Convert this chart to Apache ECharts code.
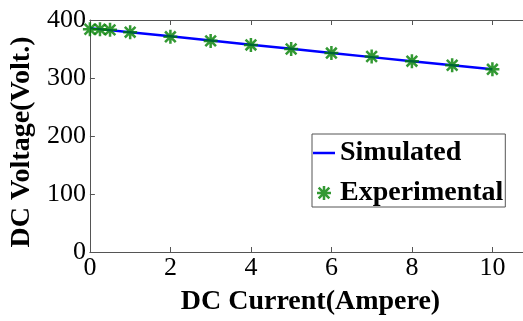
<!DOCTYPE html>
<html>
<head>
<meta charset="utf-8">
<script src="https://cdn.jsdelivr.net/npm/echarts@6/dist/echarts.min.js"></script>
<style>html,body{margin:0;padding:0;background:#fff}#c{width:523px;height:321px}</style>
</head>
<body>
<div id="c"></div>
<script>
var currentSim = [0, 1, 2, 3, 4, 5, 6, 7, 8, 9, 10];
var voltageSim = [386, 379, 372, 364.5, 357.5, 350.5, 343, 336, 329, 322, 315];
var currentExp = [0, 0.25, 0.5, 1, 2, 3, 4, 5, 6, 7, 8, 9, 10];
var voltageExp = [384, 384, 383, 379, 371, 364, 357, 350, 343, 337, 329, 322, 315];
var xTicks = [0, 2, 4, 6, 8, 10];
var yTicks = [0, 100, 200, 300, 400];

var star = 'path://M0,41L100,41L100,59L0,59Z M41,0L59,0L59,100L41,100Z M18.4,5.6L94.4,81.6L81.6,94.4L5.6,18.4Z M94.4,18.4L18.4,94.4L5.6,81.6L81.6,5.6Z';
var lineIcon = 'path://M0,0L22,0L22,2.5L0,2.5Z';
var serif = '"Liberation Serif", "Times New Roman", serif';
var axisCol = '#555';

var chart = echarts.init(document.getElementById('c'), null, {renderer: 'canvas'});
chart.setOption({
  animation: false,
  backgroundColor: '#fff',
  grid: {left: 88, top: 20, bottom: 62, right: 0, containLabel: false},
  xAxis: [{
    type: 'value', min: 0, max: 10.76, interval: 2,
    name: 'DC Current(Ampere)', nameLocation: 'middle', nameGap: 36,
    nameTextStyle: {fontFamily: serif, fontWeight: 'bold', fontSize: 28, color: '#000', padding: [0, 0, 0, 8]},
    axisLine: {show: true, lineStyle: {color: axisCol, width: 1}},
    axisTick: {show: true, inside: true, length: 5, lineStyle: {color: axisCol}},
    axisLabel: {show: true, fontFamily: serif, fontSize: 26, color: '#000', margin: 3, showMaxLabel: false,
      formatter: function (v) { return xTicks.indexOf(v) >= 0 ? String(v) : ''; }},
    splitLine: {show: false}
  }, {
    type: 'value', position: 'top', min: 0, max: 10.76, interval: 2,
    axisLine: {show: true, onZero: false, lineStyle: {color: axisCol, width: 1}},
    axisTick: {show: true, inside: true, length: 5, lineStyle: {color: axisCol}},
    axisLabel: {show: false}, splitLine: {show: false}
  }],
  yAxis: {
    type: 'value', min: 0, max: 400, interval: 100,
    name: 'DC Voltage(Volt.)', nameLocation: 'middle', nameGap: 40,
    nameTextStyle: {fontFamily: serif, fontWeight: 'bold', fontSize: 28, color: '#000', padding: [0, 12, 0, 0]},
    axisLine: {show: true, lineStyle: {color: axisCol, width: 1}},
    axisTick: {show: true, inside: true, length: 5, lineStyle: {color: axisCol}},
    axisLabel: {fontFamily: serif, fontSize: 26, color: '#000', margin: 4,
      formatter: function (v) { return yTicks.indexOf(v) >= 0 ? String(v) : ''; }},
    splitLine: {show: false}
  },
  legend: {
    orient: 'vertical', left: 312, top: 134,
    backgroundColor: '#fff', borderColor: axisCol, borderWidth: 1, borderRadius: 0,
    padding: [5, 2, 0, 1], itemGap: 12, itemWidth: 22, itemHeight: 14,
    textStyle: {fontFamily: serif, fontWeight: 'bold', fontSize: 28, color: '#000'},
    data: [{name: 'Simulated', icon: lineIcon}, {name: 'Experimental', icon: star}]
  },
  series: [{
    name: 'Simulated', type: 'line', showSymbol: false, symbol: 'none',
    data: currentSim.map(function (x, i) { return [x, voltageSim[i]]; }),
    lineStyle: {color: '#0000ff', width: 2.5}, itemStyle: {color: '#0000ff'}, z: 2
  }, {
    name: 'Experimental', type: 'scatter', symbol: star, symbolSize: 14,
    data: currentExp.map(function (x, i) { return [x, voltageExp[i]]; }),
    itemStyle: {color: '#008000'}, z: 3
  }]
});
</script>
</body>
</html>
